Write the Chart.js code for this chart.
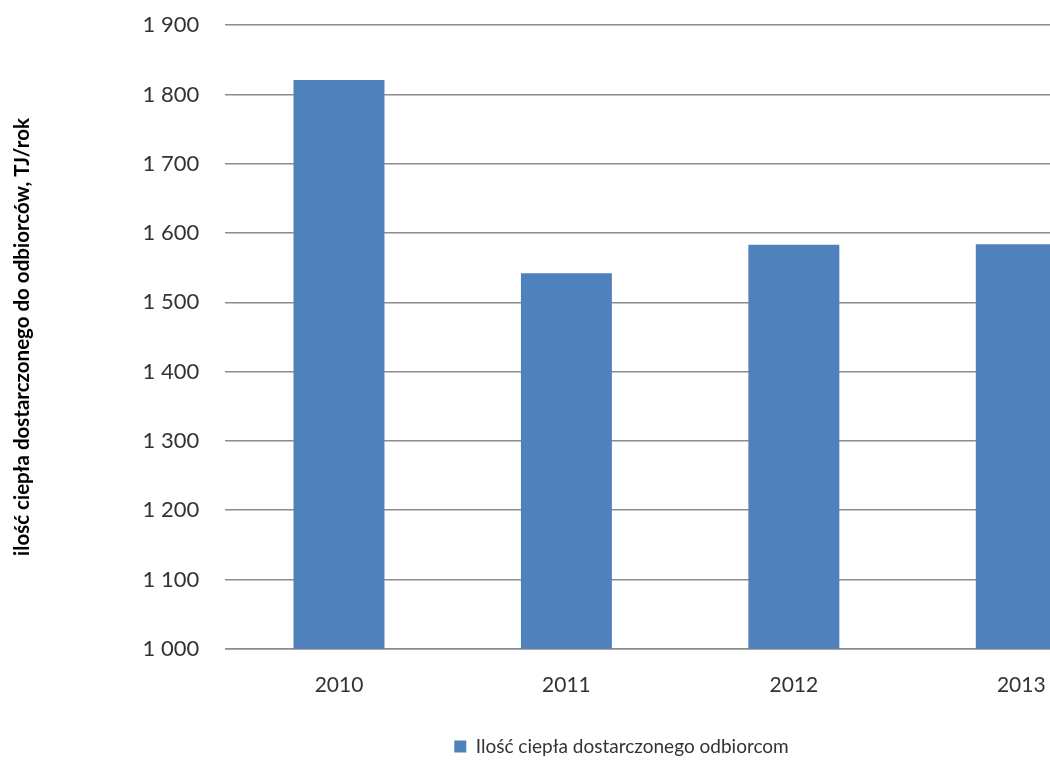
<!DOCTYPE html>
<html>
<head>
<meta charset="utf-8">
<script src="https://cdn.jsdelivr.net/npm/chart.js@4"></script>
<style>
  html, body { margin: 0; padding: 0; background: #fff; overflow: hidden; }
  #wrap { width: 1050px; height: 760px; overflow: hidden; position: relative; }
  canvas { position: absolute; left: 0; top: -14px; }
</style>
</head>
<body>
<div id="wrap"><canvas id="heatChart" width="1240" height="795"></canvas></div>
<script>
// Data
const years = ['2010', '2011', '2012', '2013'];
const heatDelivered = [1821, 1542, 1583, 1584];
const yTickLabels = ['1 000', '1 100', '1 200', '1 300', '1 400', '1 500', '1 600', '1 700', '1 800', '1 900'];

const seriesName = 'Ilość ciepła dostarczonego odbiorcom';
const axisTitle = 'ilość ciepła dostarczonego do odbiorców, TJ/rok';

const fontFamily = 'Lato, "Open Sans", sans-serif';
const gridColor = '#8c8c8c';

// the legend in the original sits a bit right of the plot centre
const legendShift = {
    id: 'legendShift',
    afterLayout(chart) {
        chart.legend.left += 49;
        chart.legend.right += 49;
    }
};

const chart = new Chart(document.getElementById('heatChart'), {
    type: 'bar',
    data: {
        labels: years,
        datasets: [{
            label: seriesName,
            data: heatDelivered,
            backgroundColor: '#4f81bd',
            borderWidth: 0,
            categoryPercentage: 1,
            barPercentage: 0.4
        }]
    },
    options: {
        responsive: false,
        animation: false,
        layout: {
            padding: { left: 10, right: 105, top: 0, bottom: 15 }
        },
        plugins: {
            legend: {
                position: 'bottom',
                labels: {
                    boxWidth: 12,
                    boxHeight: 12,
                    color: '#333',
                    padding: 3,
                    font: { family: fontFamily, size: 19 }
                }
            },
            tooltip: { enabled: false }
        },
        scales: {
            x: {
                grid: { display: false, drawTicks: false },
                border: { display: true, color: gridColor, width: 1.5 },
                ticks: {
                    color: '#333',
                    padding: 24,
                    font: { family: fontFamily, size: 21 }
                },
                afterFit: (scale) => { scale.height += 12; }
            },
            y: {
                min: 1000,
                max: 1900,
                grid: { color: gridColor, lineWidth: 1.5, drawTicks: false },
                border: { display: false },
                ticks: {
                    stepSize: 100,
                    color: '#333',
                    padding: 26,
                    font: { family: fontFamily, size: 22 },
                    callback: (value) => yTickLabels[Math.round((value - 1000) / 100)]
                },
                title: {
                    display: true,
                    text: axisTitle,
                    color: '#000',
                    padding: { top: 0, bottom: 82 },
                    font: { family: fontFamily, size: 20.5, weight: 'bold' }
                }
            }
        }
    },
    plugins: [legendShift]
});
</script>
</body>
</html>
